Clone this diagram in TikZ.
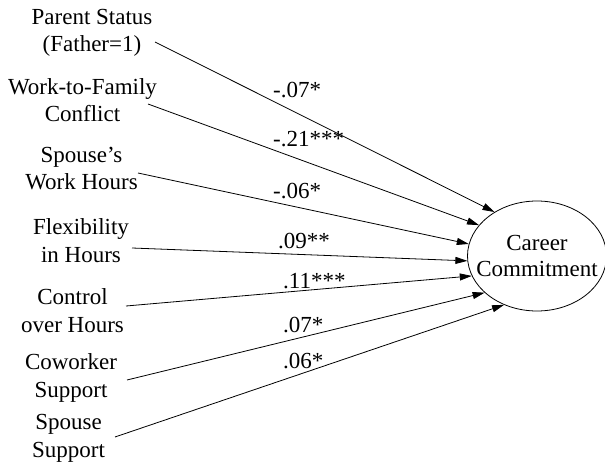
\documentclass[tikz,border=0pt]{standalone}
\usepackage{fontspec}
\setmainfont{Liberation Serif}
\usetikzlibrary{arrows.meta,shapes.geometric}
\begin{document}
\begin{tikzpicture}[x=1pt,y=-1pt,
  vartext/.style={align=center,anchor=base,inner sep=0pt,font=\fontsize{23}{27.5}\selectfont},
  coef/.style={anchor=base west,inner sep=0pt,font=\fontsize{23}{27.5}\selectfont},
  path/.style={line width=0.8pt,-{Triangle[length=12pt,width=7pt]}},
  outcome/.style={ellipse,draw,line width=0.8pt,minimum width=139pt,minimum height=110pt,inner xsep=-14pt,inner ysep=0pt,align=center,font=\fontsize{23}{26}\selectfont}]
\useasboundingbox (0,0) rectangle (605,465);
\node[vartext] (parent) at (92,52) {Parent Status\\(Father=1)};
\node[vartext] (wfc) at (82.5,122) {Work-to-Family\\Conflict};
\node[vartext] (swh) at (81.5,190) {Spouse’s\\Work Hours};
\node[vartext] (flex) at (81,262) {Flexibility\\in Hours};
\node[vartext] (ctrl) at (72.5,332) {Control\\over Hours};
\node[vartext] (cow) at (71,397) {Coworker\\Support};
\node[vartext] (ssup) at (68.5,457) {Spouse\\Support};
\node[outcome] (career) at (537,256) {Career\\Commitment};
\coordinate (s1) at (155,42);
\coordinate (s2) at (148,104);
\coordinate (s3) at (138,173);
\coordinate (s4) at (132,248);
\coordinate (s5) at (126,306);
\coordinate (s6) at (127,380);
\coordinate (s7) at (115,437);
\draw[path] (s1) -- (career.134);
\draw[path] (s2) -- (career.152);
\draw[path] (s3) -- (career.170);
\draw[path] (s4) -- (career.184);
\draw[path] (s5) -- (career.197);
\draw[path] (s6) -- (career.215);
\draw[path] (s7) -- (career.236);
\node[coef] (c1) at (273,98) {-.07*};
\node[coef] (c2) at (273,147) {-.21***};
\node[coef] (c3) at (273,199) {-.06*};
\node[coef] (c4) at (278,248) {.09**};
\node[coef] (c5) at (283,288) {.11***};
\node[coef] (c6) at (283,332) {.07*};
\node[coef] (c7) at (283,368) {.06*};
\end{tikzpicture}
\end{document}
